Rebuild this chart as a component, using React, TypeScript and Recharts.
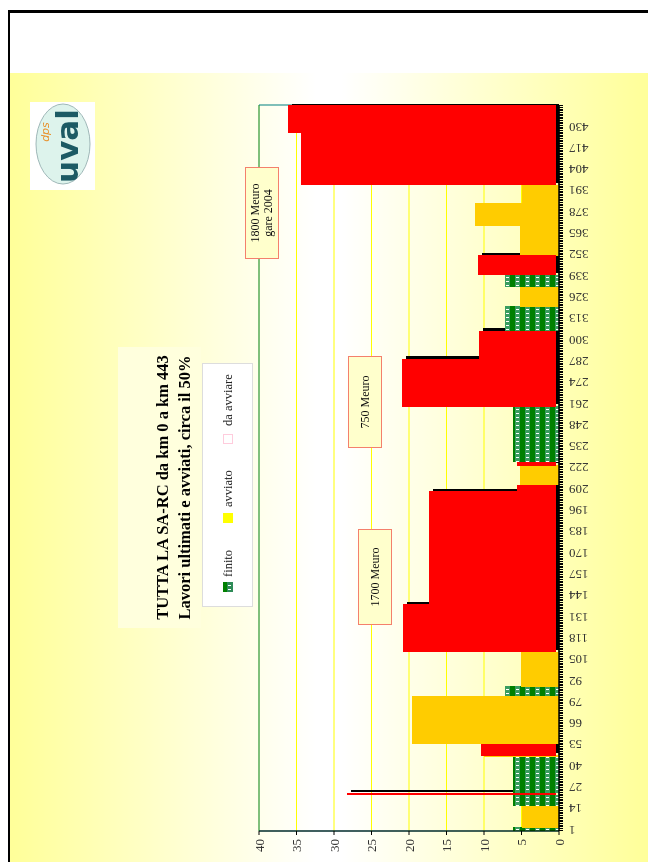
import React from 'react';
import { BarChart, Bar, XAxis, YAxis, CartesianGrid, ReferenceArea } from 'recharts';

// ---- data (km 1..443), runs: [fromKm, toKm, value]
const KM_FIRST = 1;
const KM_LAST = 443;

const finitoRuns: [number, number, number][] = [
  [1, 2, 6.1], [16, 22, 6.2], [24, 45, 6.2], [83, 88, 7.2],
  [226, 259, 6.1], [306, 320, 7.2], [333, 339, 7.2],
];
const avviatoRuns: [number, number, number][] = [
  [3, 15, 5.0], [46, 46, 10.0], [54, 82, 19.6], [89, 109, 5.1],
  [212, 223, 5.2], [321, 332, 5.2], [352, 369, 5.2], [370, 383, 11.2], [384, 394, 5.0],
];
const daAvviareRuns: [number, number, number][] = [
  [23, 23, 28.3], [47, 53, 10.4], [110, 138, 20.8], [139, 207, 17.3],
  [208, 211, 5.6], [224, 225, 5.6], [260, 288, 20.9], [289, 305, 10.7],
  [340, 351, 10.8], [395, 426, 34.4], [427, 443, 36.1],
];

const kmTickLabels = [1, 14, 27, 40, 53, 66, 79, 92, 105, 118, 131, 144, 157, 170, 183, 196, 209,
  222, 235, 248, 261, 274, 287, 300, 313, 326, 339, 352, 365, 378, 391, 404, 417, 430];
const valueTicks = [0, 5, 10, 15, 20, 25, 30, 35, 40];

const titleLines = ['TUTTA LA SA-RC da km 0 a km 443', 'Lavori ultimati e avviati, circa il 50%'];
const legendLabels = ['finito', 'avviato', 'da avviare'];

// ---- table for the library
type Row = { km: number; finito: number; avviato: number; daAvviare: number };
const rows: Row[] = [];
for (let km = KM_FIRST; km <= KM_LAST; km++) rows.push({ km, finito: 0, avviato: 0, daAvviare: 0 });
const applyRuns = (runs: [number, number, number][], key: 'finito' | 'avviato' | 'daAvviare') => {
  for (const [a, b, v] of runs) for (let k = a; k <= b; k++) rows[k - KM_FIRST][key] = v;
};
applyRuns(finitoRuns, 'finito');
applyRuns(avviatoRuns, 'avviato');
applyRuns(daAvviareRuns, 'daAvviare');

const FONT = '"Liberation Serif", "Times New Roman", serif';

const PlainShape = (p: any) => {
  const { x, y, width, height, fill } = p;
  if (!height || height <= 0) return <g />;
  return <rect x={x} y={y} width={width} height={height} fill={fill} shapeRendering="crispEdges" />;
};
const RedShape = (p: any) => {
  const { x, y, width, height, fill } = p;
  if (!height || height <= 0) return <g />;
  return <rect x={x} y={y} width={width} height={Math.max(0, height - 3.5)} fill={fill} shapeRendering="crispEdges" />;
};
const ShadowShape = (p: any) => {
  const { x, y, width, height, index } = p;
  if (!height || height <= 4) return <g />;
  const dx = index === rows.length - 1 ? 0 : 2.5;
  return <rect x={x + dx} y={y + 4} width={width} height={height - 4} fill="#000" shapeRendering="crispEdges" />;
};

const KmTick = (props: any) => {
  const { x, y, payload } = props;
  if (!kmTickLabels.includes(payload.value)) return <g />;
  return (
    <text x={x} y={y} dy="0.35em" transform={`rotate(-90 ${x} ${y})`} textAnchor="end"
      fontSize={13} fontFamily={FONT} fill="#333">{payload.value}</text>
  );
};

const noteBox = (extra: React.CSSProperties): React.CSSProperties => ({
  position: 'absolute', background: '#FFFFCC', border: '1.5px solid #F4806C', boxSizing: 'border-box',
  display: 'flex', alignItems: 'center', justifyContent: 'center', textAlign: 'center',
  fontFamily: FONT, fontSize: 12, lineHeight: '13px', color: '#111', ...extra,
});

export default function App() {
  return (
    <div style={{
      position: 'fixed', left: 0, top: 0, width: 862, height: 648, background: '#fff', overflow: 'hidden',
      transformOrigin: '0 0', transform: 'translateY(862px) rotate(-90deg)', fontFamily: FONT,
    }}>
      {/* background panel */}
      <div style={{ position: 'absolute', left: 0, top: 10, width: 789, height: 638,
        background: 'linear-gradient(to bottom, #FFFF99 0%, #FFFFFF 48%, #FFFFFF 52%, #FFFF99 100%)' }} />
      {/* frame */}
      <div style={{ position: 'absolute', left: -10, top: 8, width: 862, height: 700, boxSizing: 'border-box',
        borderTop: '2px solid #000', borderRight: '3px solid #000' }} />

      <div style={{ position: 'absolute', left: 0, top: 0 }}>
        <BarChart width={862} height={648} data={rows} margin={{ top: 259, right: 105, bottom: 59, left: 6 }}
          barCategoryGap={0} barGap={0}>
          <defs>
            <pattern id="finitoPattern" patternUnits="userSpaceOnUse" width="4" height="10">
              <rect x="0" y="0" width="4" height="10" fill="#3A9D5F" />
              <rect x="0" y="0" width="4" height="5" fill="#008000" />
              <rect x="0" y="6" width="1" height="3" fill="#FFFFFF" />
            </pattern>
          </defs>
          <CartesianGrid vertical={false} stroke="#FFFF00" strokeWidth={1} />
          <ReferenceArea y1={0} y2={40} fill="none" stroke="#008080" strokeWidth={1} ifOverflow="visible" />
          <XAxis xAxisId="shadow" dataKey="km" hide />
          <Bar xAxisId="shadow" dataKey="daAvviare" shape={ShadowShape} isAnimationActive={false} legendType="none" />
          <Bar dataKey="finito" stackId="s" fill="url(#finitoPattern)" shape={PlainShape} isAnimationActive={false} />
          <Bar dataKey="avviato" stackId="s" fill="#FFCC00" shape={PlainShape} isAnimationActive={false} />
          <Bar dataKey="daAvviare" stackId="s" fill="#FF0000" shape={RedShape} isAnimationActive={false} />
          <XAxis dataKey="km" interval={0} height={30} tickSize={4} tickMargin={6} tick={KmTick}
            axisLine={{ stroke: '#000', strokeWidth: 1.5 }} tickLine={{ stroke: '#000', shapeRendering: 'crispEdges' } as any} />
          <YAxis domain={[0, 40]} ticks={valueTicks} width={25} tickSize={4} tickMargin={4}
            axisLine={{ stroke: '#000' }} tickLine={{ stroke: '#000' }}
            tick={{ fontSize: 13, fontFamily: FONT, fill: '#333' }} />
        </BarChart>
      </div>

      {/* title */}
      <div style={{ position: 'absolute', left: 234, top: 118, width: 281, height: 83, background: '#FFFFDD',
        boxSizing: 'border-box', paddingTop: 33.5 }}>
        {titleLines.map((t) => (
          <div key={t} style={{ fontWeight: 'bold', fontSize: 16.5, lineHeight: '22px', textAlign: 'center',
            color: '#000', whiteSpace: 'nowrap' }}>{t}</div>
        ))}
      </div>

      {/* legend */}
      <div style={{ position: 'absolute', left: 255, top: 202, width: 244, height: 51, background: '#fff',
        border: '1px solid #DDDDDD', boxSizing: 'border-box' }} />
      <svg style={{ position: 'absolute', left: 270, top: 223 }} width={10} height={10}>
        <rect x={0} y={0} width={10} height={10} fill="#2E8B57" />
        <rect x={0} y={0} width={10} height={4} fill="#008000" />
        <rect x={2} y={5} width={1} height={3} fill="#fff" />
        <rect x={6} y={5} width={1} height={3} fill="#fff" />
      </svg>
      <div style={{ position: 'absolute', left: 339, top: 223, width: 10, height: 10, background: '#FFFF00' }} />
      <div style={{ position: 'absolute', left: 418, top: 223, width: 10, height: 10, background: '#fff',
        border: '1px solid #FFCCDD', boxSizing: 'border-box' }} />
      {legendLabels.map((t, i) => (
        <div key={t} style={{ position: 'absolute', left: [285, 355, 436][i], top: 220, height: 16,
          lineHeight: '16px', fontSize: 12.5, color: '#222', whiteSpace: 'nowrap' }}>{t}</div>
      ))}

      {/* notes */}
      <div style={noteBox({ left: 237, top: 358, width: 96, height: 34 })}>1700 Meuro</div>
      <div style={noteBox({ left: 414, top: 348, width: 92, height: 34 })}>750 Meuro</div>
      <div style={noteBox({ left: 603, top: 245, width: 92, height: 34 })}>1800 Meuro<br />gare 2004</div>

      {/* logo */}
      <svg style={{ position: 'absolute', left: 672, top: 30 }} width={88} height={65}>
        <rect x={0} y={0} width={88} height={65} fill="#fff" />
        <ellipse cx={46} cy={33} rx={40} ry={27} fill="#DDF3EC" stroke="#9FB8B8" strokeWidth={1} />
        <text x={44} y={48} textAnchor="middle" fontSize={31} fontWeight="bold"
          fontFamily='"DejaVu Sans", sans-serif' fill="#1C5A64">uval</text>
        <text x={58} y={19} textAnchor="middle" fontSize={11} fontStyle="italic"
          fontFamily='"DejaVu Sans", sans-serif' fill="#E8902A">dps</text>
      </svg>
    </div>
  );
}
